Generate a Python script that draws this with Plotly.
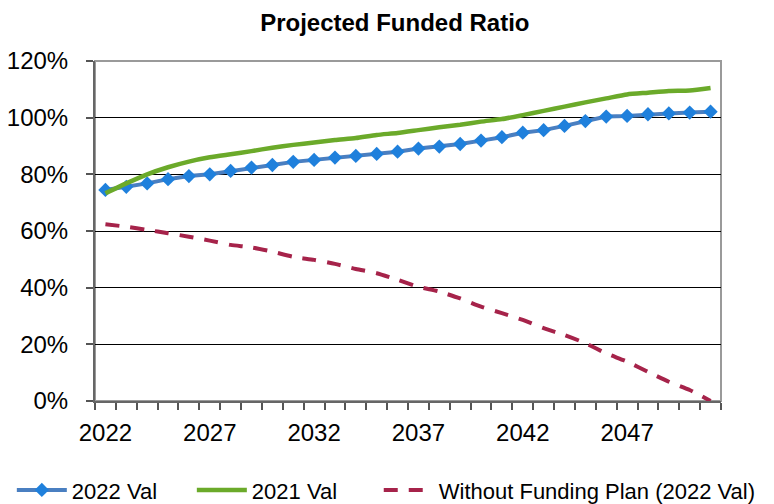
import plotly.graph_objects as go

years = list(range(2022, 2052))
val_2022 = [74.5, 75.6, 76.8, 78.3, 79.4, 80.0, 81.2, 82.4, 83.3, 84.4,
            85.1, 85.9, 86.5, 87.2, 88.0, 89.1, 89.8, 90.7, 91.9, 93.1,
            94.7, 95.6, 97.1, 98.8, 100.4, 100.6, 101.2, 101.5, 101.8, 102.1]
val_2021 = [73.3, 76.8, 80.0, 82.5, 84.5, 86.0, 87.1, 88.2, 89.4, 90.4,
            91.2, 92.1, 92.8, 93.9, 94.6, 95.6, 96.6, 97.5, 98.6, 99.5,
            100.9, 102.4, 103.9, 105.4, 106.8, 108.2, 108.8, 109.4, 109.6, 110.5]
no_plan = [62.4, 61.5, 60.4, 59.2, 58.0, 56.6, 55.1, 54.2, 52.7, 50.9,
           49.8, 48.4, 46.6, 45.1, 42.8, 40.3, 38.6, 36.2, 33.3, 31.0,
           28.6, 25.7, 23.3, 20.4, 16.8, 13.9, 10.3, 6.8, 3.9, 0.0]
x_tick_vals = [2022, 2027, 2032, 2037, 2042, 2047]
y_tick_vals = [0, 20, 40, 60, 80, 100, 120]
y_tick_text = ["0%", "20%", "40%", "60%", "80%", "100%", "120%"]

FONT = "Liberation Sans, Arial, sans-serif"

fig = go.Figure()
fig.add_trace(go.Scatter(
    x=years, y=val_2022, name="2022 Val", mode="lines+markers", legend="legend",
    line=dict(color="#4A7FC1", width=4),
    marker=dict(symbol="diamond", size=11, color="#1F80DC"),
))
fig.add_trace(go.Scatter(
    x=years, y=val_2021, name="2021 Val", mode="lines", legend="legend2",
    line=dict(color="#6BAA2A", width=4.5, shape="spline", smoothing=0.6),
))
fig.add_trace(go.Scatter(
    x=years, y=no_plan, name="Without Funding Plan (2022 Val)", mode="lines", legend="legend3",
    line=dict(color="#A6234A", width=4, dash="14px,11px", shape="spline", smoothing=0.6),
))

fig.add_shape(type="rect", xref="x domain", yref="y domain", x0=0, x1=1, y0=0, y1=1,
              line=dict(color="#9A9A9A", width=2), layer="below")

leg_common = dict(orientation="h", xref="container", yref="container",
                  xanchor="left", y=0.028, yanchor="middle",
                  font=dict(size=22, family=FONT, color="#000000"),
                  itemwidth=50, bgcolor="rgba(0,0,0,0)")

fig.update_layout(
    width=766, height=496,
    margin=dict(l=87, r=53, t=53, b=103, autoexpand=False),
    paper_bgcolor="white", plot_bgcolor="white",
    font=dict(family=FONT, color="#000000"),
    title=dict(text="<b>Projected Funded Ratio</b>", x=0.505, xanchor="center",
               y=0.970, yanchor="middle", yref="container",
               font=dict(size=24, family=FONT, color="#000000")),
    showlegend=True,
    legend=dict(x=0.005, **leg_common),
    legend2=dict(x=0.240, **leg_common),
    legend3=dict(x=0.484, **leg_common),
    hovermode=False,
)

fig.update_xaxes(
    range=[2021.5, 2051.5], tickvals=x_tick_vals, ticktext=[str(v) for v in x_tick_vals],
    ticks="outside", ticklen=7, tickcolor="rgba(0,0,0,0)", ticklabelstandoff=2,
    minor=dict(tickvals=[y + 0.5 for y in range(2021, 2052)], ticks="outside", ticklen=7,
               tickcolor="#555555", tickwidth=1.5, showgrid=False),
    showgrid=False, zeroline=False, showline=True, linecolor="#666666", linewidth=2,
    tickfont=dict(size=24, family=FONT, color="#000000"),
)
fig.update_yaxes(
    range=[0, 120], tickvals=y_tick_vals, ticktext=y_tick_text,
    ticks="outside", ticklen=7, tickcolor="#555555", tickwidth=1.5, ticklabelstandoff=13,
    showgrid=True, gridcolor="#000000", gridwidth=1,
    zeroline=False, showline=True, linecolor="#666666", linewidth=2,
    tickfont=dict(size=24, family=FONT, color="#000000"),
)

fig.write_html("out.html")
